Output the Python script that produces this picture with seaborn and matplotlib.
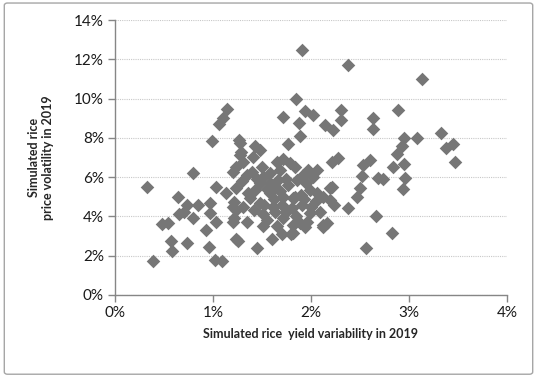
import numpy as np
import pandas as pd
import seaborn as sns
import matplotlib.pyplot as plt
from matplotlib.patches import FancyBboxPatch
from matplotlib.ticker import PercentFormatter

# simulated yield variability (%), price volatility (%)
yield_var = [0.33, 0.39, 0.48, 0.54, 0.57, 0.58, 0.64, 0.65, 0.70, 0.74, 0.74, 0.80, 0.80, 0.85,
             0.93, 0.96, 0.97, 0.97, 0.99, 1.02, 1.03, 1.03, 1.06, 1.10, 1.14, 1.09, 1.13, 1.20,
             1.24, 1.20, 1.20, 1.24, 1.22, 1.24, 1.22, 1.24,
             1.27, 1.28, 1.29, 1.31, 1.28, 1.41, 1.43, 1.48, 1.40, 1.26, 1.35, 1.45, 1.51, 1.51,
             1.63, 1.60, 1.70, 1.80, 1.71, 1.82, 1.89, 1.96, 2.12, 2.16, 1.31, 1.38, 1.43, 1.48,
             1.48, 1.51, 1.58, 1.58, 1.58, 1.61, 1.65, 1.66, 1.68, 1.71, 1.72, 1.72, 1.77, 1.77,
             1.79, 1.81, 1.82, 1.84, 1.85, 1.86, 1.88, 1.89, 1.91, 1.91, 1.94, 1.99, 1.99, 1.99,
             2.02, 2.06, 2.06, 2.09, 2.12, 2.14, 2.19, 2.19, 2.21, 2.23, 2.24, 2.28, 2.31, 2.31,
             2.38, 2.38,
             2.47, 2.50, 2.52, 2.53, 2.56, 2.60, 2.63, 2.63, 2.66, 2.68, 2.74, 2.83, 2.84, 2.88,
             2.89, 2.93, 2.94, 2.95, 2.96, 2.95, 3.08, 3.13, 3.33, 3.38, 3.45, 3.47,
             1.55, 1.62, 1.68, 1.75, 1.92, 1.95, 2.02, 2.05, 1.90, 1.62, 1.52, 1.45, 1.36, 1.70,
             1.75, 1.85, 1.93, 2.00, 1.42, 1.55, 1.65, 1.30, 1.35, 1.50, 1.97, 1.94, 1.82, 1.84,
             2.21, 2.12]
price_vol = [5.50, 1.70, 3.60, 3.66, 2.75, 2.25, 5.00, 4.10, 4.20, 4.60, 2.65, 6.20, 3.90, 4.60,
             3.30, 2.45, 4.70, 4.15, 7.84, 1.80, 5.50, 3.70, 8.70, 9.00, 9.45, 1.70, 5.20, 6.25,
             6.50, 4.50, 3.70, 2.85, 3.90, 4.30, 4.73, 5.45,
             7.90, 7.75, 7.30, 6.77, 7.10, 7.00, 7.60, 7.40, 6.25, 2.75, 3.70, 2.40, 3.50, 4.10,
             4.20, 2.85, 3.10, 3.10, 3.90, 3.56, 3.66, 3.70, 3.47, 3.66, 4.48, 4.94, 5.34, 5.70,
             4.70, 6.00, 6.20, 5.70, 5.20, 4.48, 6.77, 5.85, 6.36, 9.06, 6.90, 5.00, 7.70, 5.60,
             6.70, 4.43, 4.94, 6.50, 10.00, 5.85, 8.75, 8.10, 12.45, 4.60, 9.36, 6.20, 5.34, 4.17,
             9.16, 6.36, 5.20, 4.22, 5.00, 8.65, 5.45, 4.83, 6.77, 8.40, 4.60, 6.97, 9.40, 8.90,
             11.70, 4.43,
             5.00, 5.45, 6.05, 6.60, 2.40, 6.85, 9.00, 8.45, 4.00, 5.95, 5.90, 3.15, 6.50, 7.20,
             9.40, 7.60, 5.40, 6.65, 5.95, 8.00, 8.00, 11.00, 8.25, 7.50, 7.70, 6.75,
             5.40, 5.50, 5.30, 5.90, 6.10, 5.70, 6.00, 4.80, 5.10, 4.90, 4.60, 5.90, 5.20, 4.60,
             4.20, 4.00, 4.90, 4.50, 4.30, 3.80, 3.50, 5.80, 6.10, 6.50, 6.36, 3.47, 3.15, 5.00,
             5.50, 3.56]

df = pd.DataFrame({"yield_var": yield_var, "price_vol": price_vol})

sns.set_style("white")
plt.rcParams["font.family"] = ["Lato", "DejaVu Sans"]

fig = plt.figure(figsize=(5.37, 3.78), dpi=100)
ax = fig.add_axes([0.214, 0.22, 0.73, 0.727])

sns.scatterplot(data=df, x="yield_var", y="price_vol", marker="D", s=48,
                color="#767676", linewidth=0, ax=ax, zorder=3)

ax.set_xlim(0, 4)
ax.set_ylim(0, 14)
ax.set_xticks(np.arange(0, 5, 1))
ax.set_yticks(np.arange(0, 15, 2))
ax.xaxis.set_major_formatter(PercentFormatter(decimals=0))
ax.yaxis.set_major_formatter(PercentFormatter(decimals=0))
ax.grid(axis="y", color="#c8c8c8", linestyle=(0, (1, 1)), linewidth=0.8)
ax.grid(axis="x", visible=False)

for side in ["top", "right"]:
    ax.spines[side].set_visible(False)
for side in ["left", "bottom"]:
    ax.spines[side].set_color("#868686")
    ax.spines[side].set_linewidth(1)
ax.tick_params(axis="both", direction="out", length=5, width=1, color="#868686",
               labelsize=11, labelcolor="#1a1a1a", left=True, bottom=True, pad=3)

ax.set_xlabel("Simulated rice  yield variability in 2019", fontsize=9, fontweight="bold",
              labelpad=6)
ax.set_ylabel("Simulated rice\nprice volatility in 2019", fontsize=9, fontweight="bold",
              labelpad=14)

# chart border
fig.patches.append(FancyBboxPatch((0.008, 0.01), 0.984, 0.982, boxstyle="round,pad=0,rounding_size=0.006",
                                  transform=fig.transFigure, fill=False, edgecolor="#a6a6a6",
                                  linewidth=1))

fig.savefig("out.png", dpi=100)
